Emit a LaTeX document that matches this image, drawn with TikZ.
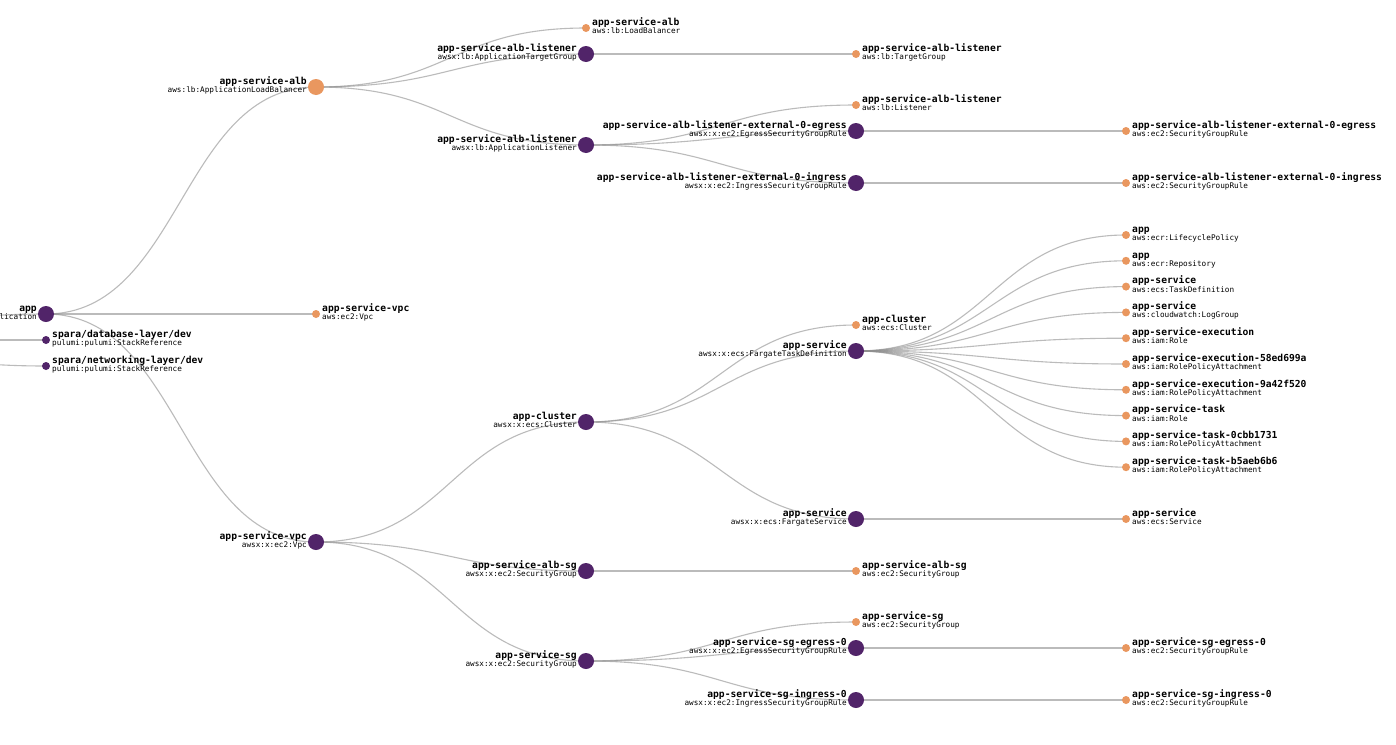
\documentclass[tikz,border=0pt]{standalone}
\usepackage{fontspec}
\setmonofont{DejaVu Sans Mono}
\usetikzlibrary{backgrounds}
\definecolor{pur}{HTML}{512469}
\definecolor{org}{HTML}{E9975F}
\definecolor{lgray}{HTML}{8F8F8F}
\tikzset{
  pbig/.style={circle,fill=pur,minimum size=16pt,inner sep=0pt,draw=none},
  obig/.style={circle,fill=org,minimum size=16pt,inner sep=0pt,draw=none},
  osm/.style={circle,fill=org,minimum size=8pt,inner sep=0pt,draw=none},
  psm/.style={circle,fill=pur,minimum size=8pt,inner sep=0pt,draw=none},
  nm/.style={font=\ttfamily\bfseries\fontsize{9.65}{10}\selectfont,inner sep=0pt,text=black},
  ty/.style={font=\ttfamily\fontsize{7.7}{8}\selectfont,inner sep=0pt,text=black},
  link/.style={draw=lgray,line width=1.1pt,draw opacity=0.6}
}
\newcommand{\LabR}[3]{%
  \node[nm,anchor=base west] (#1-n) at ([shift={(6,-2.7)}]#1.center) {#2};
  \node[ty,anchor=base west] (#1-t) at ([shift={(6,5.5)}]#1.center) {#3};}
\newcommand{\LabL}[3]{%
  \node[nm,anchor=base east] (#1-n) at ([shift={(-9,-2.7)}]#1.center) {#2};
  \node[ty,anchor=base east] (#1-t) at ([shift={(-9,5.5)}]#1.center) {#3};}
\newcommand{\Lk}[2]{\draw[link] (#1.center) .. controls +(135,0) and +(-135,0) .. (#2.center);}
\begin{document}
\begin{tikzpicture}[x=1pt,y=-1pt]
\useasboundingbox (0,0) rectangle (1396,744);
\coordinate (root) at (-224,340);
% depth 1
\node[pbig] (app) at (46,314) {};
\node[psm] (db) at (46,340) {};
\node[psm] (net) at (46,366) {};
% depth 2
\node[obig] (alb) at (316,87) {};
\node[osm] (vpcaws) at (316,314) {};
\node[pbig] (vpc) at (316,542) {};
% depth 3
\node[osm] (albaws) at (586,28) {};
\node[pbig] (tg) at (586,54) {};
\node[pbig] (lis) at (586,145) {};
\node[pbig] (cluster) at (586,422) {};
\node[pbig] (albsg) at (586,571) {};
\node[pbig] (sg) at (586,661) {};
% depth 4
\node[osm] (tgaws) at (856,54) {};
\node[osm] (lisaws) at (856,105) {};
\node[pbig] (eg) at (856,131) {};
\node[pbig] (ing) at (856,183) {};
\node[osm] (clusteraws) at (856,325) {};
\node[pbig] (td) at (856,351) {};
\node[pbig] (fs) at (856,519) {};
\node[osm] (albsgaws) at (856,571) {};
\node[osm] (sgaws) at (856,622) {};
\node[pbig] (sgeg) at (856,648) {};
\node[pbig] (sging) at (856,700) {};
% depth 5
\node[osm] (egaws) at (1126,131) {};
\node[osm] (ingaws) at (1126,183) {};
\node[osm] (t0) at (1126,235) {};
\node[osm] (t1) at (1126,260.8) {};
\node[osm] (t2) at (1126,286.6) {};
\node[osm] (t3) at (1126,312.4) {};
\node[osm] (t4) at (1126,338.2) {};
\node[osm] (t5) at (1126,364) {};
\node[osm] (t6) at (1126,389.8) {};
\node[osm] (t7) at (1126,415.6) {};
\node[osm] (t8) at (1126,441.4) {};
\node[osm] (t9) at (1126,467.2) {};
\node[osm] (fsaws) at (1126,519) {};
\node[osm] (sgegaws) at (1126,648) {};
\node[osm] (sgingaws) at (1126,700) {};
% links
\begin{scope}[on background layer]
\fill[white] (0,0) rectangle (1396,744);
\Lk{root}{app}\Lk{root}{db}\Lk{root}{net}
\Lk{app}{alb}\Lk{app}{vpcaws}\Lk{app}{vpc}
\Lk{alb}{albaws}\Lk{alb}{tg}\Lk{alb}{lis}
\Lk{vpc}{cluster}\Lk{vpc}{albsg}\Lk{vpc}{sg}
\Lk{tg}{tgaws}
\Lk{lis}{lisaws}\Lk{lis}{eg}\Lk{lis}{ing}
\Lk{cluster}{clusteraws}\Lk{cluster}{td}\Lk{cluster}{fs}
\Lk{albsg}{albsgaws}
\Lk{sg}{sgaws}\Lk{sg}{sgeg}\Lk{sg}{sging}
\Lk{eg}{egaws}\Lk{ing}{ingaws}
\foreach \i in {0,...,9} {\Lk{td}{t\i}}
\Lk{fs}{fsaws}\Lk{sgeg}{sgegaws}\Lk{sging}{sgingaws}
\end{scope}
% labels
\LabL{app}{app}{lication}
\LabR{db}{spara/database-layer/dev}{pulumi:pulumi:StackReference}
\LabR{net}{spara/networking-layer/dev}{pulumi:pulumi:StackReference}
\LabL{alb}{app-service-alb}{aws:lb:ApplicationLoadBalancer}
\LabR{vpcaws}{app-service-vpc}{aws:ec2:Vpc}
\LabL{vpc}{app-service-vpc}{awsx:x:ec2:Vpc}
\LabR{albaws}{app-service-alb}{aws:lb:LoadBalancer}
\LabL{tg}{app-service-alb-listener}{awsx:lb:ApplicationTargetGroup}
\LabL{lis}{app-service-alb-listener}{awsx:lb:ApplicationListener}
\LabL{cluster}{app-cluster}{awsx:x:ecs:Cluster}
\LabL{albsg}{app-service-alb-sg}{awsx:x:ec2:SecurityGroup}
\LabL{sg}{app-service-sg}{awsx:x:ec2:SecurityGroup}
\LabR{tgaws}{app-service-alb-listener}{aws:lb:TargetGroup}
\LabR{lisaws}{app-service-alb-listener}{aws:lb:Listener}
\LabL{eg}{app-service-alb-listener-external-0-egress}{awsx:x:ec2:EgressSecurityGroupRule}
\LabL{ing}{app-service-alb-listener-external-0-ingress}{awsx:x:ec2:IngressSecurityGroupRule}
\LabR{clusteraws}{app-cluster}{aws:ecs:Cluster}
\LabL{td}{app-service}{awsx:x:ecs:FargateTaskDefinition}
\LabL{fs}{app-service}{awsx:x:ecs:FargateService}
\LabR{albsgaws}{app-service-alb-sg}{aws:ec2:SecurityGroup}
\LabR{sgaws}{app-service-sg}{aws:ec2:SecurityGroup}
\LabL{sgeg}{app-service-sg-egress-0}{awsx:x:ec2:EgressSecurityGroupRule}
\LabL{sging}{app-service-sg-ingress-0}{awsx:x:ec2:IngressSecurityGroupRule}
\LabR{egaws}{app-service-alb-listener-external-0-egress}{aws:ec2:SecurityGroupRule}
\LabR{ingaws}{app-service-alb-listener-external-0-ingress}{aws:ec2:SecurityGroupRule}
\LabR{t0}{app}{aws:ecr:LifecyclePolicy}
\LabR{t1}{app}{aws:ecr:Repository}
\LabR{t2}{app-service}{aws:ecs:TaskDefinition}
\LabR{t3}{app-service}{aws:cloudwatch:LogGroup}
\LabR{t4}{app-service-execution}{aws:iam:Role}
\LabR{t5}{app-service-execution-58ed699a}{aws:iam:RolePolicyAttachment}
\LabR{t6}{app-service-execution-9a42f520}{aws:iam:RolePolicyAttachment}
\LabR{t7}{app-service-task}{aws:iam:Role}
\LabR{t8}{app-service-task-0cbb1731}{aws:iam:RolePolicyAttachment}
\LabR{t9}{app-service-task-b5aeb6b6}{aws:iam:RolePolicyAttachment}
\LabR{fsaws}{app-service}{aws:ecs:Service}
\LabR{sgegaws}{app-service-sg-egress-0}{aws:ec2:SecurityGroupRule}
\LabR{sgingaws}{app-service-sg-ingress-0}{aws:ec2:SecurityGroupRule}
\end{tikzpicture}
\end{document}
